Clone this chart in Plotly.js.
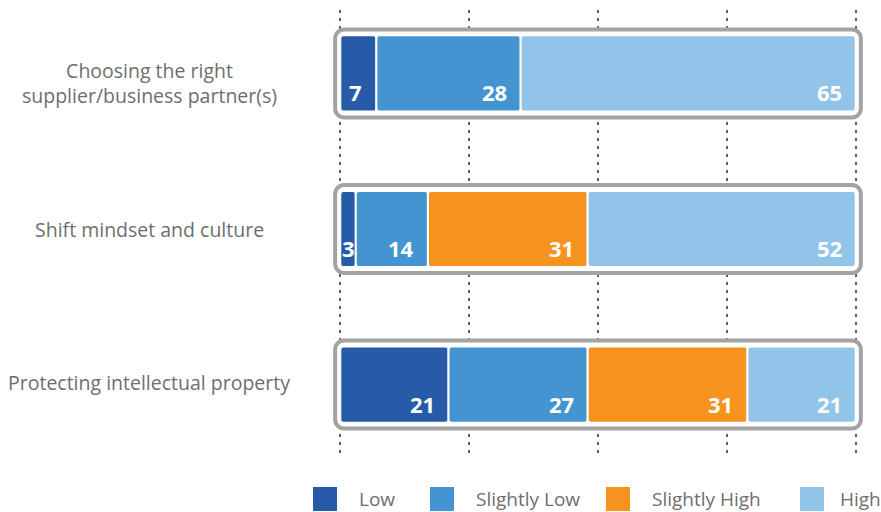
<!DOCTYPE html>
<html>
<head>
<meta charset="utf-8">
<script src="https://cdn.plot.ly/plotly-3.0.1.min.js"></script>
<style>html,body{margin:0;padding:0;background:#fff;}#chart{width:881px;height:512px;}</style>
</head>
<body>
<div id="chart"></div>
<script>
// ---- data ----
const categories = ["Choosing the right<br>supplier/business partner(s)", "Shift mindset and culture", "Protecting intellectual property"];
const seriesNames = ["Low", "Slightly Low", "Slightly High", "High"];
const low = [7, 3, 21];
const slightlyLow = [28, 14, 27];
const slightlyHigh = [null, 31, 31];
const high = [65, 52, 21];

// ---- styling ----
const colors = ["#275ba8", "#4394d0", "#f6921e", "#92c4e9"];
const series = [low, slightlyLow, slightlyHigh, high];
const FONT = "'Open Sans', 'Noto Sans', sans-serif";
const labelShift = [-10, 0, 2];

// pixel helpers
const W = 881, H = 512, ML = 330, MR = 15, MT = 10, MB = 57;
const pw = W - ML - MR, ph = H - MT - MB;
const XR = [-2, 102];
const pxX = p => (p - ML) / pw;
const pxY = p => (H - MB - p) / ph;
const unitPx = pw / (XR[1] - XR[0]);

const traces = [];
const annotations = [];

// frame around each row (built from row totals)
const totals = categories.map((c, i) => series.reduce((s, a) => s + (a[i] || 0), 0));
traces.push({
  type: "bar", orientation: "h", y: categories,
  x: totals.map(t => t + 2), base: totals.map(() => -1),
  width: 0.566,
  marker: {color: "#ffffff", line: {color: "#a3a3a6", width: 4}, cornerradius: 9},
  showlegend: false, hoverinfo: "skip"
});

// stacked segments (overlay with computed bases)
const cum = categories.map(() => 0);
series.forEach((vals, k) => {
  const bases = cum.slice();
  traces.push({
    type: "bar", orientation: "h", name: seriesNames[k], y: categories,
    x: vals, base: bases, width: 0.49,
    marker: {color: colors[k], line: {color: "#ffffff", width: 2}, cornerradius: 3},
    showlegend: false
  });
  vals.forEach((v, i) => {
    if (v === null || v === undefined) return;
    const segPx = v * unitPx;
    const narrow = segPx < 30;
    annotations.push({
      xref: "x", yref: "y",
      x: narrow ? bases[i] + v / 2 : bases[i] + v, y: categories[i],
      xanchor: narrow ? "center" : "right", yanchor: "middle",
      xshift: narrow ? 0 : -12, yshift: -19,
      text: "<b>" + v + "</b>", showarrow: false,
      font: {family: FONT, size: 22, color: "#ffffff"}
    });
    cum[i] += v;
  });
});

// category labels (centered)
categories.forEach((c, i) => {
  annotations.push({
    xref: "paper", yref: "y", x: pxX(149), y: c, xanchor: "center", yanchor: "middle",
    yshift: labelShift[i],
    text: c, align: "center", showarrow: false,
    font: {family: FONT, size: 19.5, color: "#6e6e6e"}
  });
});

// custom legend
const legendX = [313, 430, 606, 800];
const shapes = [];
seriesNames.forEach((n, k) => {
  shapes.push({
    type: "rect", xref: "paper", yref: "paper",
    x0: pxX(legendX[k]), x1: pxX(legendX[k] + 24), y0: pxY(511), y1: pxY(487),
    fillcolor: colors[k], line: {width: 0}
  });
  annotations.push({
    xref: "paper", yref: "paper", x: pxX(legendX[k] + 24 + (k === 3 ? 14 : 20)), y: pxY(499),
    xanchor: "left", yanchor: "middle", text: n, showarrow: false,
    font: {family: FONT, size: 19, color: "#6e6e6e"}
  });
});

const layout = {
  width: W, height: H,
  margin: {l: ML, r: MR, t: MT, b: MB},
  paper_bgcolor: "#ffffff", plot_bgcolor: "#ffffff",
  barmode: "overlay",
  showlegend: false,
  xaxis: {range: XR, tick0: 0, dtick: 25, showgrid: true, gridcolor: "#606060",
          gridwidth: 2, griddash: "3px,5px", zeroline: false, showticklabels: false,
          ticks: "", showline: false, fixedrange: true},
  yaxis: {type: "category", categoryorder: "array", categoryarray: categories,
          range: [2.453, -0.408], showgrid: false, zeroline: false,
          showticklabels: false, ticks: "", showline: false, fixedrange: true},
  annotations: annotations,
  shapes: shapes
};

Plotly.newPlot("chart", traces, layout, {staticPlot: true, displayModeBar: false});
</script>
</body>
</html>
